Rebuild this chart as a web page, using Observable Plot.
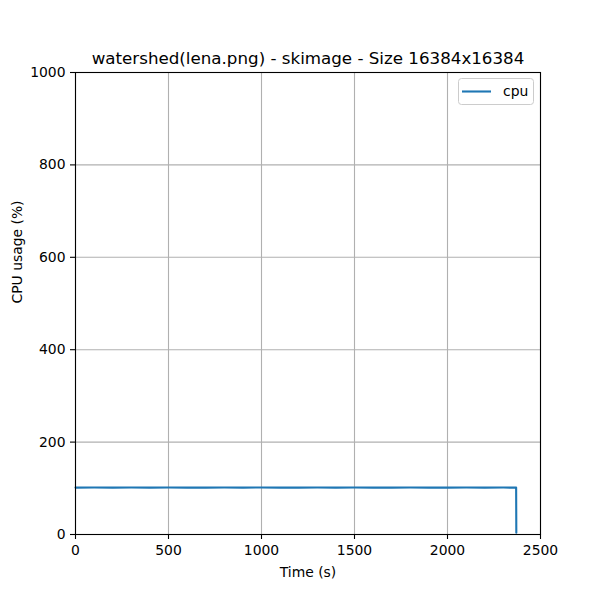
<!DOCTYPE html>
<html>
<head>
<meta charset="utf-8">
<script src="https://cdn.jsdelivr.net/npm/d3@7"></script>
<script src="https://cdn.jsdelivr.net/npm/@observablehq/plot@0.6"></script>
<style>
  html, body { margin: 0; padding: 0; background: #fff; }
  svg text { font-family: "DejaVu Sans", sans-serif; }
</style>
</head>
<body>
<div id="chart"></div>
<script>
const titleText = "watershed(lena.png) - skimage - Size 16384x16384";
const xLabel = "Time (s)";
const yLabel = "CPU usage (%)";
const seriesName = "cpu";
const xTicks = [0, 500, 1000, 1500, 2000, 2500];
const yTicks = [0, 200, 400, 600, 800, 1000];
const times = [0, 100, 200, 300, 400, 500, 600, 700, 800, 900, 1000, 1100, 1200, 1300, 1400, 1500, 1600, 1700, 1800, 1900, 2000, 2100, 2200, 2300, 2369, 2370];
const cpu   = [101.5, 101.7, 101.5, 101.6, 101.5, 101.6, 101.5, 101.5, 101.6, 101.5, 101.7, 101.5, 101.5, 101.6, 101.5, 101.6, 101.5, 101.5, 101.6, 101.5, 101.5, 101.6, 101.5, 101.6, 101.5, 4];

const data = times.map((t, i) => ({t, v: cpu[i]}));
const fs = 13.9;
const fmt = d3.format("d");

const plot = Plot.plot({
  width: 600,
  height: 600,
  marginLeft: 75,
  marginRight: 60,
  marginTop: 72,
  marginBottom: 66,
  style: {fontFamily: "DejaVu Sans, sans-serif", fontSize: fs + "px", color: "#000", background: "#fff"},
  x: {domain: [0, 2500], ticks: xTicks},
  y: {domain: [0, 1000], ticks: yTicks},
  marks: [
    Plot.gridX(xTicks, {stroke: "#b0b0b0", strokeOpacity: 1, strokeWidth: 1.1}),
    Plot.gridY(yTicks, {stroke: "#b0b0b0", strokeOpacity: 1, strokeWidth: 1.1}),
    Plot.line(data, {x: "t", y: "v", stroke: "#1f77b4", strokeWidth: 2.1, curve: "linear"}),
    Plot.frame({stroke: "#000", strokeWidth: 1.1}),
    Plot.axisX(xTicks, {tickSize: 5, tickPadding: 6, fontSize: fs, label: null, strokeWidth: 1.1, tickFormat: fmt}),
    Plot.axisY(yTicks, {tickSize: 5, tickPadding: 5, fontSize: fs, label: null, strokeWidth: 1.1, tickFormat: fmt}),
    Plot.text([xLabel], {frameAnchor: "bottom", dy: 42, fontSize: fs, fill: "#000"}),
    Plot.text([yLabel], {frameAnchor: "left", dx: -58, rotate: -90, fontSize: fs, fill: "#000"}),
    Plot.text([titleText], {frameAnchor: "top", dy: -20, fontSize: 16.7, fill: "#000"})
  ]
});
document.getElementById("chart").appendChild(plot);

// legend
const svg = d3.select(plot);
const g = svg.append("g").attr("transform", "translate(458,78)");
g.append("rect").attr("x", 0.5).attr("y", 0.5).attr("width", 75).attr("height", 26)
  .attr("rx", 3).attr("fill", "#fff").attr("fill-opacity", 0.8).attr("stroke", "#cccccc");
g.append("line").attr("x1", 4).attr("x2", 33).attr("y1", 13.5).attr("y2", 13.5)
  .attr("stroke", "#1f77b4").attr("stroke-width", 2.1);
g.append("text").attr("x", 45).attr("y", 13.5).attr("dy", "0.35em")
  .attr("text-anchor", "start")
  .attr("font-size", fs).attr("fill", "#000").text(seriesName);
</script>
</body>
</html>
